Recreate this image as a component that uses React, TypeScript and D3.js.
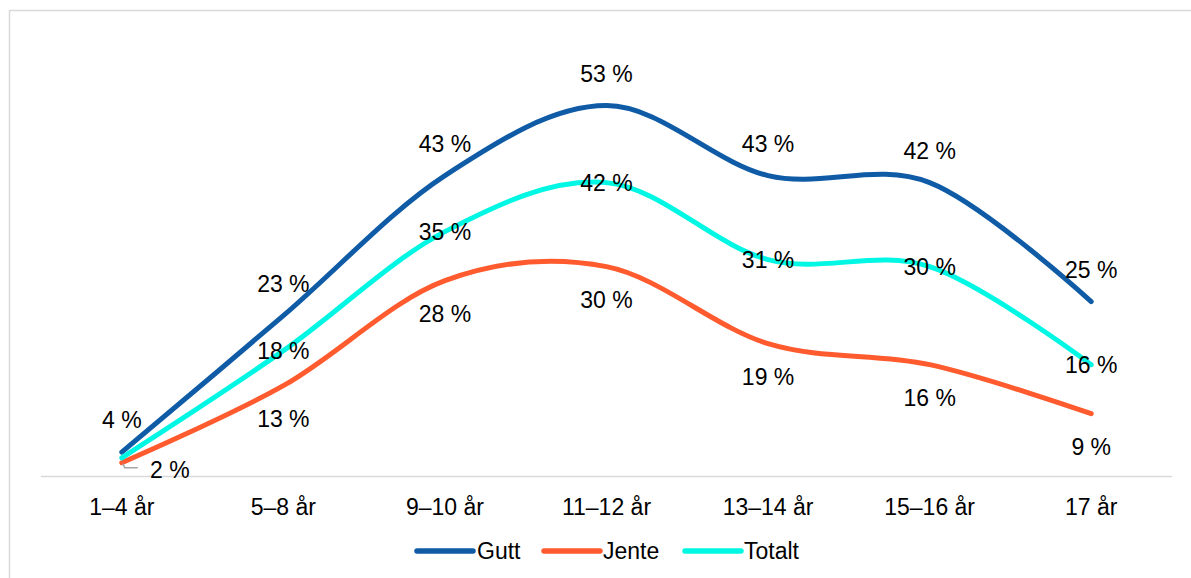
import React from "react";
import * as d3 from "d3";

const categories = ["1–4 år", "5–8 år", "9–10 år", "11–12 år", "13–14 år", "15–16 år", "17 år"];
const guttValues = [3.5, 23, 43, 53, 43, 42, 25];
const jenteValues = [2, 13, 28, 30, 19, 16, 9];
const totaltValues = [2.7, 18, 35, 42, 31, 30, 16];
const totaltShowLabel = [false, true, true, true, true, true, true];
const seriesNames = ["Gutt", "Jente", "Totalt"];
const seriesColors = ["#0F5BA6", "#FF5B2E", "#00F7E4"];

const W = 1191;
const H = 578;
const FONT = "'Liberation Sans', Arial, sans-serif";
const FS = 23;

export default function App() {
  const x = d3.scaleBand().domain(categories).range([41, 1172]);
  const y = d3.scaleLinear().domain([0, 53]).range([476.7, 105.6]);
  const cx = (c: string) => (x(c) as number) + x.bandwidth() / 2;

  const series = [
    { name: seriesNames[0], values: guttValues, color: seriesColors[0] },
    { name: seriesNames[1], values: jenteValues, color: seriesColors[1] },
    { name: seriesNames[2], values: totaltValues, color: seriesColors[2] },
  ];

  const line = d3
    .line<number>()
    .x((_, i) => cx(categories[i]))
    .y((d) => y(d))
    .curve(d3.curveCardinal.tension(0));

  const fmt = (v: number) => `${Math.round(v)} %`;

  const legendItems = [
    { x: 417, textX: 477 },
    { x: 544, textX: 603 },
    { x: 685, textX: 744 },
  ];

  const x0 = cx(categories[0]);
  const yj0 = y(jenteValues[0]);

  return (
    <svg
      width={W}
      height={H}
      style={{ position: "absolute", left: 0, top: 0, background: "#fff" }}
      fontFamily={FONT}
    >
      <rect x={9.5} y={10.5} width={1300} height={700} fill="none" stroke="#D9D9D9" strokeWidth={1.5} />
      <line x1={41} x2={1172} y1={476.5} y2={476.5} stroke="#D9D9D9" strokeWidth={1.5} />

      {categories.map((c) => (
        <text key={c} x={cx(c)} y={515} textAnchor="middle" fontSize={FS} fill="#000">
          {c}
        </text>
      ))}

      {series.map((s) => (
        <path
          key={s.name}
          d={line(s.values) || ""}
          fill="none"
          stroke={s.color}
          strokeWidth={5}
          strokeLinecap="round"
          strokeLinejoin="round"
        />
      ))}

      {guttValues.map((v, i) => (
        <text key={"g" + i} x={cx(categories[i])} y={y(v) - 24} textAnchor="middle" fontSize={FS} fill="#000">
          {fmt(v)}
        </text>
      ))}

      {jenteValues.map((v, i) =>
        i === 0 ? (
          <g key={"j" + i}>
            <polyline
              points={`${x0 + 1},${yj0 + 1} ${x0 + 3},${yj0 + 5} ${x0 + 16},${yj0 + 5}`}
              fill="none"
              stroke="#A6A6A6"
              strokeWidth={1.5}
            />
            <text x={x0 + 48} y={yj0 + 15} textAnchor="middle" fontSize={FS} fill="#000">
              {fmt(v)}
            </text>
          </g>
        ) : (
          <text key={"j" + i} x={cx(categories[i])} y={y(v) + 41} textAnchor="middle" fontSize={FS} fill="#000">
            {fmt(v)}
          </text>
        )
      )}

      {totaltValues.map((v, i) =>
        totaltShowLabel[i] ? (
          <text key={"t" + i} x={cx(categories[i])} y={y(v) + 8} textAnchor="middle" fontSize={FS} fill="#000">
            {fmt(v)}
          </text>
        ) : null
      )}

      {series.map((s, i) => (
        <g key={"leg" + s.name}>
          <line
            x1={legendItems[i].x}
            x2={legendItems[i].x + 56}
            y1={551}
            y2={551}
            stroke={s.color}
            strokeWidth={5.5}
            strokeLinecap="round"
          />
          <text x={legendItems[i].textX} y={559} fontSize={FS} fill="#000">
            {s.name}
          </text>
        </g>
      ))}
    </svg>
  );
}
